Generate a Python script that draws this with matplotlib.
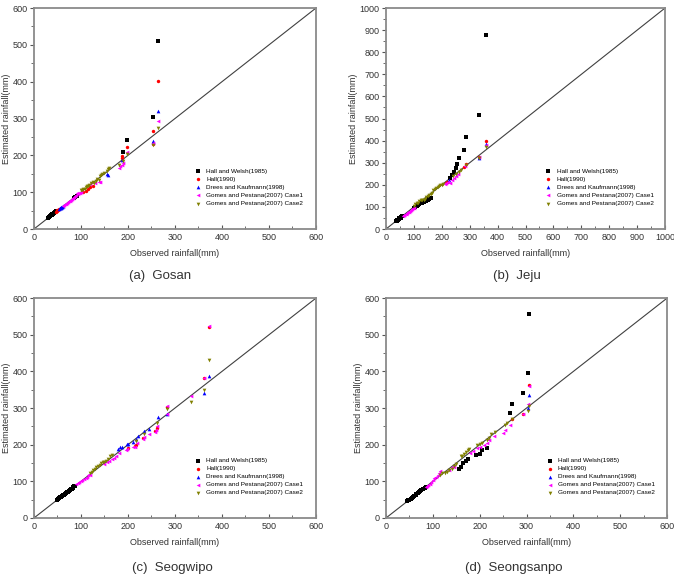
import matplotlib
matplotlib.use("Agg")
import matplotlib.pyplot as plt
from matplotlib.ticker import MultipleLocator

plt.rcParams['font.family'] = ['Liberation Sans', 'DejaVu Sans']

labels = ['Hall and Welsh(1985)', 'Hall(1990)', 'Drees and Kaufmann(1998)',
          'Gomes and Pestana(2007) Case1', 'Gomes and Pestana(2007) Case2']
colors = ['black', 'red', 'blue', 'magenta', '#808000']
markers = ['s', 'o', '^', '<', 'v']
msizes = [5, 6, 7, 7, 7]

# ---- (a) Gosan ----
gosan_x = [
    [30, 31, 32, 33, 34, 35, 36, 37, 38, 39, 40, 41, 42, 43, 44, 45, 47, 85, 88, 92, 190, 198, 253, 263],
    [46, 48, 50, 52, 53, 105, 110, 115, 120, 125, 188, 188, 198, 253, 253, 263],
    [54, 55, 56, 57, 58, 59, 60, 61, 62, 155, 157, 188, 253, 253, 263],
    [62, 64, 66, 68, 70, 72, 74, 76, 78, 80, 82, 84, 86, 88, 90, 92, 94, 96, 98, 100, 120, 130, 138, 140,
     180, 182, 188, 190, 198, 253, 263],
    [100, 103, 105, 108, 110, 112, 115, 118, 122, 125, 128, 132, 135, 138, 140, 143, 145, 150, 155, 158,
     160, 180, 190, 198, 253, 263],
]
gosan_y = [
    [31, 32, 33, 34, 35, 36, 37, 38, 39, 40, 41, 42, 43, 44, 45, 46, 48, 85, 87, 90, 210, 243, 303, 511],
    [47, 49, 51, 53, 54, 100, 103, 108, 113, 118, 192, 197, 222, 266, 230, 403],
    [55, 56, 57, 58, 59, 60, 61, 62, 63, 150, 148, 188, 240, 236, 320],
    [63, 65, 67, 69, 71, 73, 75, 77, 79, 81, 83, 85, 87, 89, 93, 97, 96, 98, 99, 100, 121, 126, 128, 127,
     167, 170, 175, 178, 208, 233, 294],
    [105, 106, 108, 110, 113, 117, 116, 120, 124, 128, 125, 130, 135, 133, 143, 148, 150, 152, 158, 163,
     165, 175, 185, 205, 228, 275],
]

# ---- (b) Jeju ----
jeju_x = [
    [35, 38, 40, 42, 45, 48, 50, 52, 55, 58, 100, 105, 110, 115, 120, 125, 130, 135, 140, 145, 150, 155, 160,
     230, 237, 245, 252, 255, 262, 280, 285, 332, 357],
    [215, 220, 280, 285, 332, 357],
    [225, 332, 357],
    [60, 63, 66, 70, 73, 76, 80, 83, 86, 90, 93, 96, 100, 210, 215, 222, 230, 235, 245, 250, 258, 282, 332, 357],
    [100, 105, 110, 115, 120, 125, 130, 135, 140, 145, 150, 155, 160, 165, 170, 175, 180, 185, 190, 195, 200,
     205, 240, 250, 260, 270, 285, 332, 357],
]
jeju_y = [
    [35, 38, 40, 42, 45, 48, 50, 52, 55, 58, 96, 100, 104, 108, 112, 116, 120, 124, 126, 128, 130, 135, 142,
     230, 245, 258, 275, 295, 322, 358, 415, 518, 880],
    [210, 212, 280, 295, 326, 398],
    [220, 322, 385],
    [60, 63, 65, 67, 70, 73, 76, 78, 82, 86, 90, 93, 97, 205, 210, 212, 210, 220, 232, 238, 248, 285, 325, 380],
    [105, 112, 118, 120, 125, 130, 130, 133, 138, 145, 148, 155, 160, 165, 175, 180, 185, 190, 195, 198, 200,
     205, 238, 250, 258, 265, 290, 320, 370],
]

# ---- (c) Seogwipo ----
seogwipo_x = [
    [50, 52, 54, 56, 58, 60, 62, 64, 66, 68, 70, 72, 74, 76, 78, 80, 82, 84, 86, 88],
    [200, 215, 218, 233, 258, 262, 283, 361, 373],
    [178, 182, 187, 197, 200, 210, 218, 222, 235, 245, 263, 283, 361, 373],
    [90, 93, 96, 100, 103, 106, 110, 113, 116, 120, 150, 155, 160, 165, 170, 175, 180, 195, 198, 210, 215,
     220, 233, 235, 245, 258, 260, 262, 282, 283, 335, 361, 373],
    [120, 123, 126, 130, 133, 136, 140, 143, 146, 150, 153, 157, 162, 165, 218, 235, 262, 283, 335, 361, 373],
]
seogwipo_y = [
    [50, 52, 54, 56, 58, 60, 62, 64, 66, 68, 70, 72, 74, 76, 78, 80, 82, 84, 86, 88],
    [190, 197, 200, 218, 238, 245, 302, 383, 522],
    [187, 193, 195, 203, 202, 207, 215, 225, 237, 243, 275, 285, 340, 388],
    [92, 95, 97, 100, 103, 106, 110, 113, 116, 118, 148, 152, 155, 160, 165, 170, 178, 185, 188, 193, 195,
     205, 215, 220, 228, 235, 240, 250, 285, 305, 333, 383, 525],
    [122, 126, 130, 135, 140, 143, 145, 150, 152, 153, 155, 160, 170, 172, 210, 230, 260, 298, 316, 350, 432],
]

# ---- (d) Seongsanpo ----
seongsan_x = [
    [45, 48, 50, 53, 55, 58, 60, 63, 65, 68, 70, 73, 75, 78, 80, 83, 85, 155, 160, 165, 170, 175, 192, 200,
     205, 215, 265, 268, 293, 303, 306],
    [268, 293, 306],
    [303, 306],
    [85, 88, 90, 93, 96, 100, 103, 106, 110, 113, 116, 135, 140, 145, 180, 185, 195, 200, 210, 215, 220, 230,
     250, 255, 265, 293, 303, 306],
    [115, 120, 125, 130, 135, 140, 145, 150, 160, 163, 166, 170, 175, 178, 195, 200, 205, 215, 220, 225, 232,
     255, 258, 268, 303, 306],
]
seongsan_y = [
    [45, 48, 50, 53, 55, 58, 60, 63, 65, 68, 70, 73, 75, 78, 80, 83, 85, 135, 140, 150, 155, 160, 172, 175,
     185, 190, 287, 310, 342, 397, 558],
    [270, 285, 362],
    [300, 335],
    [85, 88, 90, 94, 98, 103, 108, 112, 118, 123, 128, 132, 138, 140, 178, 182, 192, 195, 200, 205, 212, 225,
     232, 240, 255, 285, 310, 360],
    [118, 122, 124, 126, 130, 135, 142, 146, 170, 168, 175, 180, 185, 188, 200, 203, 205, 213, 218, 230, 235,
     255, 258, 270, 292, 305],
]

panels = [
    ('(a)  Gosan', gosan_x, gosan_y, 600, [0.0504, 0.601, 0.4184, 0.385], 160, 276),
    ('(b)  Jeju', jeju_x, jeju_y, 1000, [0.5727, 0.601, 0.414, 0.385], 517, 276),
    ('(c)  Seogwipo', seogwipo_x, seogwipo_y, 600, [0.0504, 0.0976, 0.4184, 0.383], 172, 568),
    ('(d)  Seongsanpo', seongsan_x, seongsan_y, 600, [0.5727, 0.0976, 0.417, 0.383], 514, 568),
]

fig = plt.figure(figsize=(6.74, 5.74), dpi=100)

for title, xs, ys, lim, pos, cx, cy in panels:
    ax = fig.add_axes(pos)
    ax.plot([0, lim], [0, lim], color='#404040', lw=0.8, zorder=1)
    for i in range(5):
        ax.scatter(xs[i], ys[i], s=msizes[i], marker=markers[i], color=colors[i],
                   linewidths=0, label=labels[i], zorder=2)
    ax.set_xlim(0, lim)
    ax.set_ylim(0, lim)
    major = 100
    ax.xaxis.set_major_locator(MultipleLocator(major))
    ax.yaxis.set_major_locator(MultipleLocator(major))
    ax.xaxis.set_minor_locator(MultipleLocator(major / 2))
    ax.yaxis.set_minor_locator(MultipleLocator(major / 2))
    ax.tick_params(axis='x', which='both', direction='in', colors='#555555', labelcolor='#333333',
                   labelsize=6.5, pad=3)
    ax.tick_params(axis='y', which='both', direction='out', colors='#555555', labelcolor='#333333',
                   labelsize=6.5, pad=1.5)
    ax.tick_params(which='major', length=3, width=0.8)
    ax.tick_params(which='minor', length=2, width=0.6)
    for sp in ax.spines.values():
        sp.set_color('#8a8a8a')
        sp.set_linewidth(1.3)
    ax.set_xlabel('Observed rainfall(mm)', fontsize=6.5, color='#333333', labelpad=5)
    ax.set_ylabel('Estimated rainfall(mm)', fontsize=6.5, color='#333333', labelpad=1)
    ax.legend(loc='upper left', bbox_to_anchor=(0.55, 0.285), frameon=False, fontsize=4.6,
              handletextpad=0.3, labelspacing=0.4, markerscale=1.0, borderaxespad=0)
    fig.text(cx / 674, 1 - cy / 574, title, fontsize=9.5, color='#333333', ha='center', va='center')

fig.savefig('out.png', dpi=100)
